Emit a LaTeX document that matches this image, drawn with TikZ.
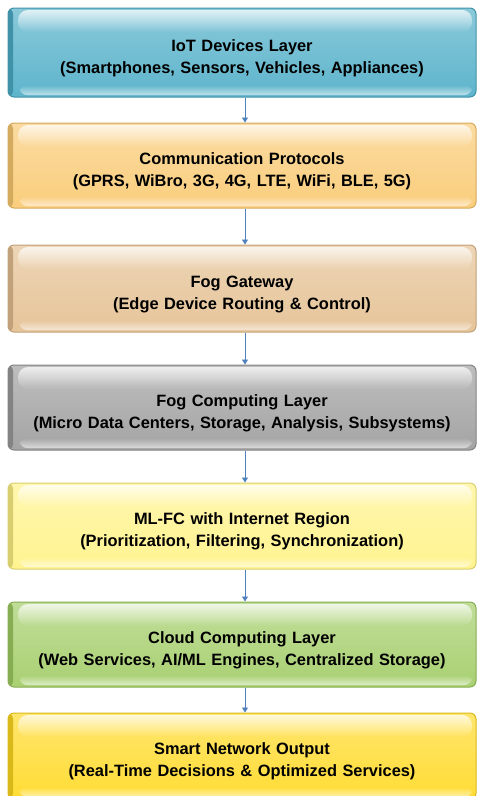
\documentclass[tikz,border=0pt]{standalone}
\usepackage{fontspec}
\setmainfont{Liberation Sans}
\usepackage{xcolor}
\usetikzlibrary{positioning,arrows.meta,fadings}

\definecolor{iotblue}{HTML}{4BACC6}
\definecolor{protoorange}{HTML}{F9C86E}
\definecolor{gatewaytan}{HTML}{E3BE8E}
\definecolor{foggray}{HTML}{9A9A9A}
\definecolor{mlyellow}{HTML}{FFF283}
\definecolor{cloudgreen}{HTML}{9FCB62}
\definecolor{outyellow}{HTML}{FFD81E}
\definecolor{flowblue}{HTML}{4F81BD}

\tikzset{
  layer/.style={draw=#1!85!black, line width=1pt, rounded corners=6pt,
    minimum width=468pt, text width=456pt, align=center,
    top color=#1!65!white, bottom color=#1!90!white,
    font=\fontsize{16.4}{22}\selectfont\bfseries,
    execute at begin node={\rule{0pt}{23pt}},
    path picture={
      \fill[#1!85!black]
        (path picture bounding box.north west) rectangle
        ([xshift=5pt]path picture bounding box.south west);
      \fill[white,opacity=0.75,path fading=south,rounded corners=10pt]
        ([xshift=10pt,yshift=-2pt]path picture bounding box.north west) rectangle
        ([xshift=-4pt,yshift=-24pt]path picture bounding box.north east);
      \fill[white,opacity=0.6,path fading=north,rounded corners=7pt]
        ([xshift=12pt,yshift=12pt]path picture bounding box.south west) rectangle
        ([xshift=-4pt,yshift=2pt]path picture bounding box.south east);
    }},
  flow/.style={draw=flowblue, line width=0.8pt, -{Triangle[width=6pt,length=5pt]}}
}

\begin{document}
\begin{tikzpicture}[x=1pt,y=-1pt]
  \useasboundingbox (0,0) rectangle (478,796);
  \clip (0,0) rectangle (478,796);
  % the seven layers, top to bottom
  \foreach \n/\y/\h/\c/\t in {
      iot/52.5/89/iotblue/{IoT Devices Layer\\(Smartphones, Sensors, Vehicles, Appliances)},
      proto/165.5/85/protoorange/{Communication Protocols\\(GPRS, WiBro, 3G, 4G, LTE, WiFi, BLE, 5G)},
      gateway/288.5/87/gatewaytan/{Fog Gateway\\(Edge Device Routing \& Control)},
      fog/407.5/85/foggray/{Fog Computing Layer\\(Micro Data Centers, Storage, Analysis, Subsystems)},
      mlfc/526/86/mlyellow/{ML-FC with Internet Region\\(Prioritization, Filtering, Synchronization)},
      cloud/644.5/85/cloudgreen/{Cloud Computing Layer\\(Web Services, AI/ML Engines, Centralized Storage)},
      output/756/86/outyellow/{Smart Network Output\\(Real-Time Decisions \& Optimized Services)}} {
    \node[layer=\c, minimum height=\h pt] (\n) at (242,\y) {\t};
  }
  % arrows between layers
  \foreach \a/\b in {iot/proto,proto/gateway,gateway/fog,fog/mlfc,mlfc/cloud,cloud/output}
    \draw[flow] ([xshift=3pt]\a.south) -- ([xshift=3pt]\b.north);
\end{tikzpicture}
\end{document}
